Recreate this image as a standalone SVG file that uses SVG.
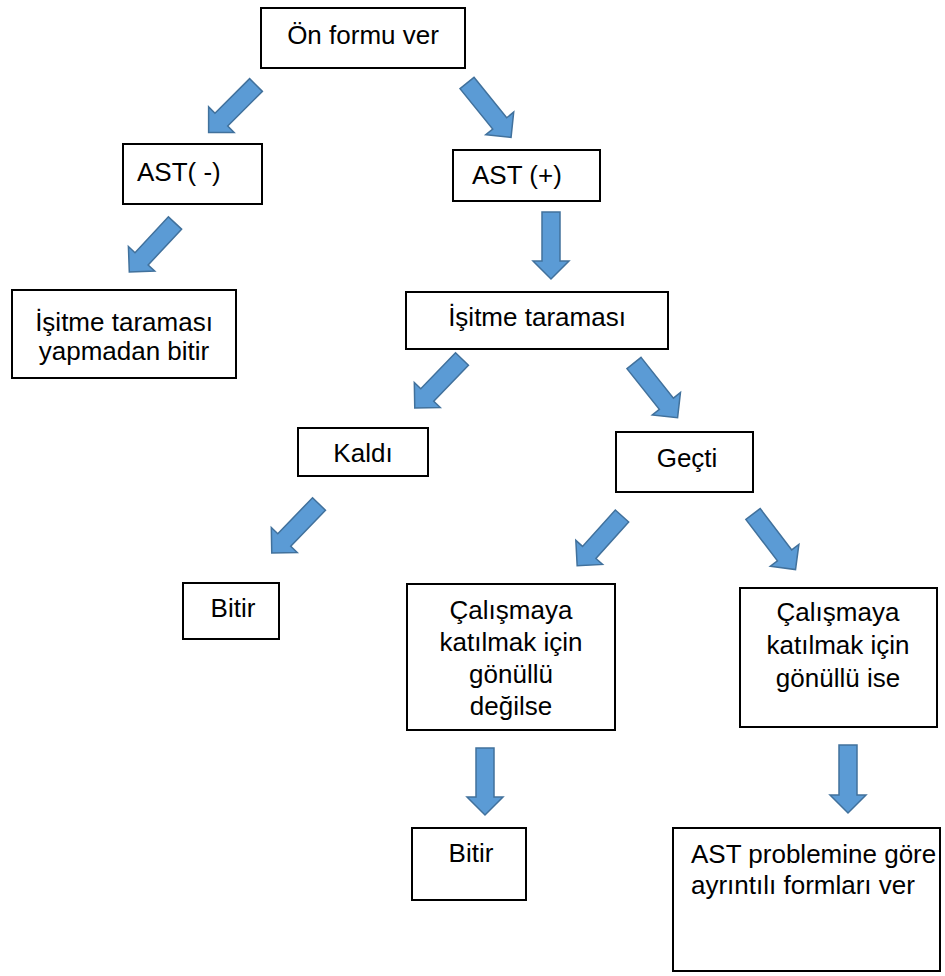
<svg xmlns="http://www.w3.org/2000/svg" width="945" height="976" viewBox="0 0 945 976">
<style>
.box{fill:#fff;stroke:#000;stroke-width:2}
.t{font-family:"Liberation Sans",Arial,sans-serif;font-size:26px;fill:#000}
.c{text-anchor:middle}
.arr{fill:#5b9bd5;stroke:#41719c;stroke-width:1.5;stroke-linejoin:miter}
</style>
<defs>
<polygon id="a67" points="0,-9 49,-9 49,-18 67,0 49,18 49,9 0,9"/>
<polygon id="a68" points="0,-9 50,-9 50,-18 68,0 50,18 50,9 0,9"/>
<polygon id="a70" points="0,-9 52,-9 52,-18 70,0 52,18 52,9 0,9"/>
</defs>
<rect width="945" height="976" fill="#fff"/>
<g id="connectors" class="arr">
<use href="#a67" transform="translate(256,85) rotate(135)"/>
<use href="#a70" transform="translate(467,83) rotate(51)"/>
<use href="#a67" transform="translate(175,223) rotate(133)"/>
<use href="#a67" transform="translate(551,212) rotate(90)"/>
<use href="#a68" transform="translate(462,359) rotate(134)"/>
<use href="#a70" transform="translate(634,363) rotate(51.5)"/>
<use href="#a68" transform="translate(319,504) rotate(134)"/>
<use href="#a67" transform="translate(622,516) rotate(132)"/>
<use href="#a70" transform="translate(753,514) rotate(52.6)"/>
<use href="#a67" transform="translate(485,748) rotate(90)"/>
<use href="#a68" transform="translate(848,745) rotate(90)"/>
</g>
<g id="n1"><rect class="box" x="261" y="8" width="204" height="60"/><text class="t c" x="363" y="44">Ön formu ver</text></g>
<g id="n2"><rect class="box" x="123" y="144" width="139" height="60"/><text class="t" x="137" y="181">AST( -)</text></g>
<g id="n3"><rect class="box" x="453" y="150" width="147" height="51"/><text class="t" x="472" y="184">AST (+)</text></g>
<g id="n4"><rect class="box" x="12" y="290" width="224" height="88"/><text class="t c" x="124" y="331">İşitme taraması</text><text class="t c" x="124" y="360">yapmadan bitir</text></g>
<g id="n5"><rect class="box" x="406" y="292" width="262" height="57"/><text class="t c" x="537" y="326">İşitme taraması</text></g>
<g id="n6"><rect class="box" x="298" y="428" width="130" height="48"/><text class="t c" x="363" y="462">Kaldı</text></g>
<g id="n7"><rect class="box" x="616" y="432" width="137" height="60"/><text class="t c" x="687" y="467">Geçti</text></g>
<g id="n8"><rect class="box" x="183" y="583" width="96" height="56"/><text class="t c" x="233" y="617">Bitir</text></g>
<g id="n9"><rect class="box" x="407" y="584" width="208" height="146"/><text class="t c" x="511" y="619">Çalışmaya</text><text class="t c" x="511" y="651">katılmak için</text><text class="t c" x="511" y="683">gönüllü</text><text class="t c" x="511" y="715">değilse</text></g>
<g id="n10"><rect class="box" x="740" y="588" width="197" height="139"/><text class="t c" x="838" y="621">Çalışmaya</text><text class="t c" x="838" y="654">katılmak için</text><text class="t c" x="838" y="687">gönüllü ise</text></g>
<g id="n11"><rect class="box" x="412" y="828" width="114" height="72"/><text class="t c" x="471" y="862">Bitir</text></g>
<g id="n12"><rect class="box" x="673" y="828" width="267" height="143"/><text class="t" x="691" y="863">AST problemine göre</text><text class="t" x="691" y="894">ayrıntılı formları ver</text></g>
</svg>
